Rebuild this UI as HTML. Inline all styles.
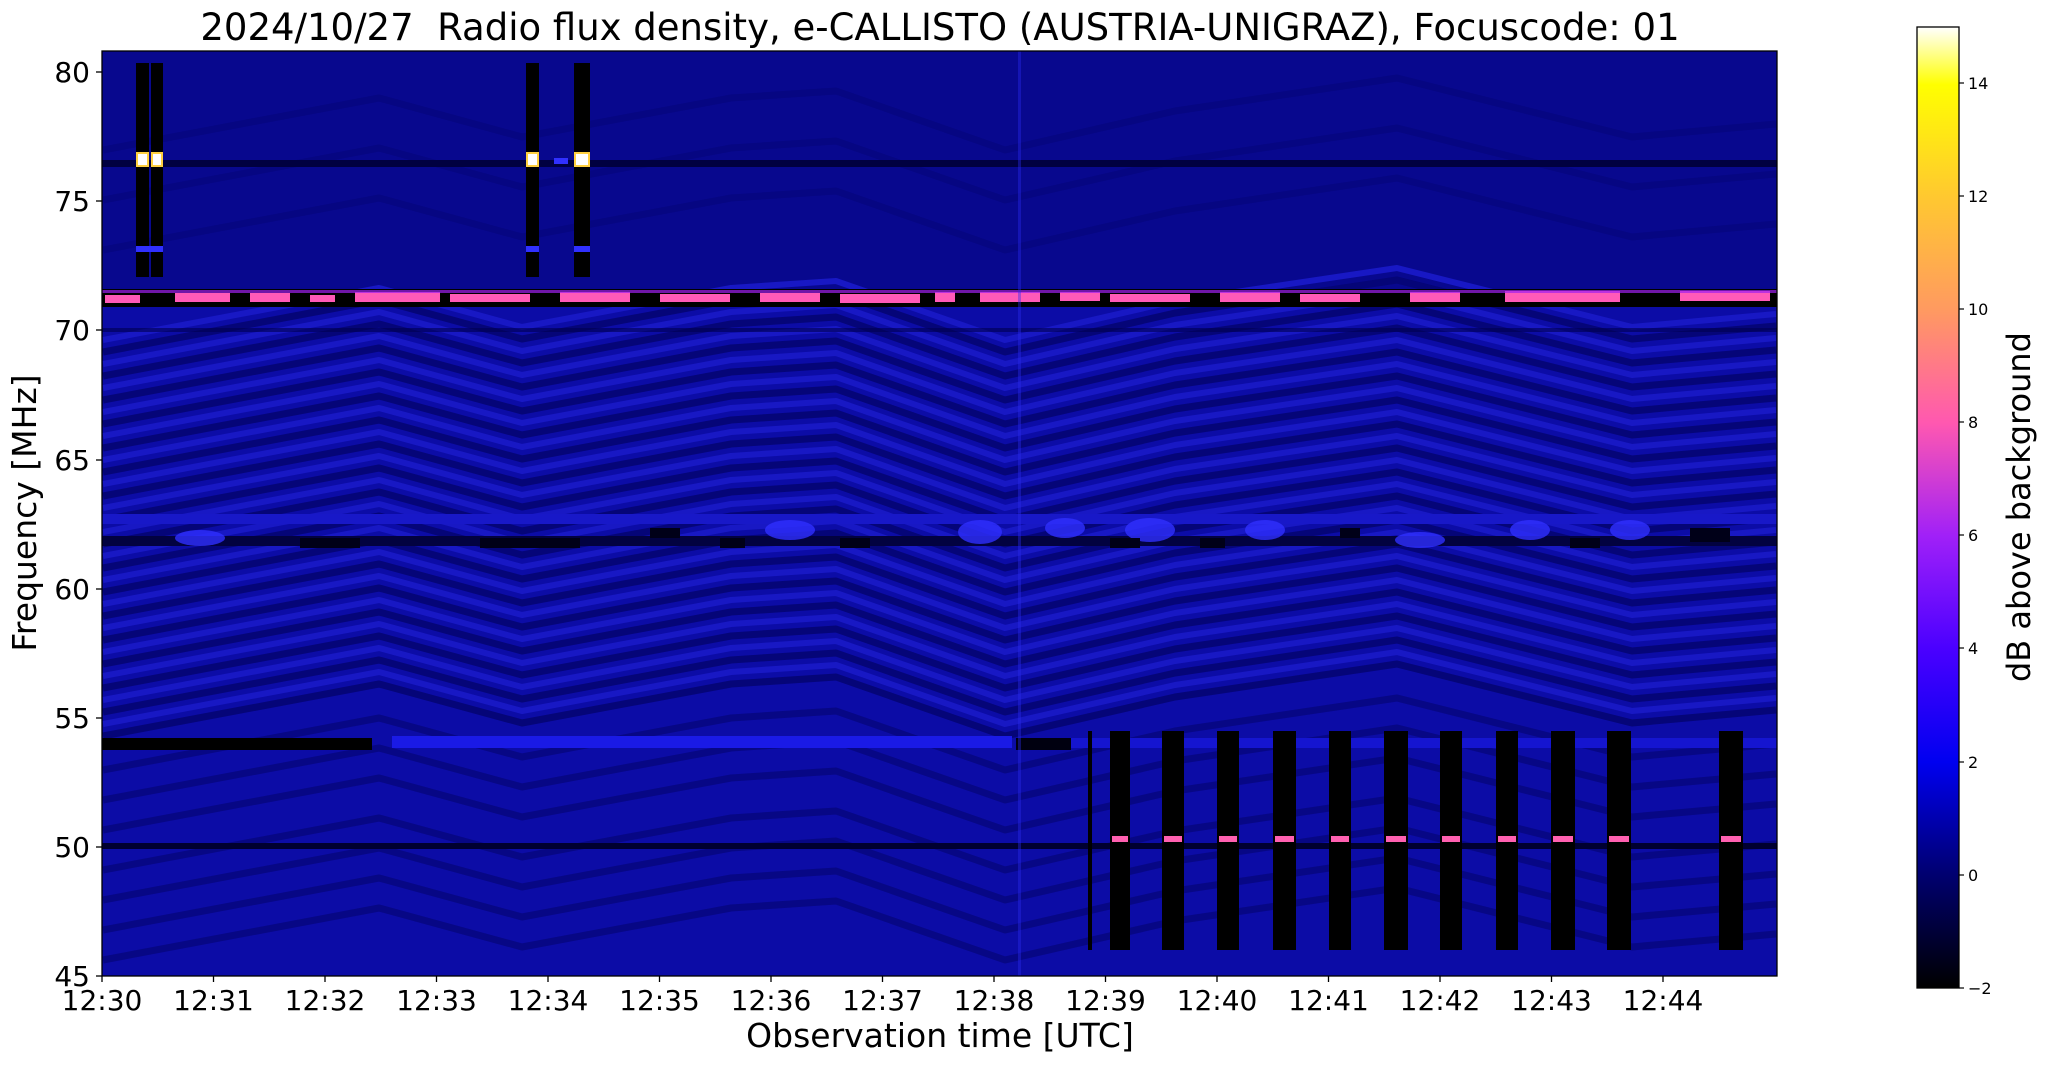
<!DOCTYPE html>
<html><head><style>
body{margin:0;background:#fff;}
svg text{font-family:"DejaVu Sans","Liberation Sans",sans-serif;fill:#000;}
</style></head><body>
<svg width="2047" height="1067" viewBox="0 0 2047 1067">
<defs>
<linearGradient id="cb" x1="0" y1="1" x2="0" y2="0">
<stop offset="0" stop-color="#000000"/>
<stop offset="0.118" stop-color="#000070"/>
<stop offset="0.235" stop-color="#0000f0"/>
<stop offset="0.353" stop-color="#4a00ff"/>
<stop offset="0.47" stop-color="#a020f8"/>
<stop offset="0.588" stop-color="#ff58b0"/>
<stop offset="0.706" stop-color="#ff9a60"/>
<stop offset="0.823" stop-color="#ffc830"/>
<stop offset="0.94" stop-color="#ffff00"/>
<stop offset="1" stop-color="#ffffff"/>
</linearGradient>
<clipPath id="pc"><rect x="102" y="51" width="1675" height="925"/></clipPath>
<polyline id="w" points="103,0 379,-52 522,-13 731,-52 836,-59 1005,0 1175,-39 1397,-72 1632,-13 1776,-26" fill="none" stroke="#050578" stroke-width="7" stroke-linejoin="round"/>
<polyline id="wl" points="103,0 379,-52 522,-13 731,-52 836,-59 1005,0 1175,-39 1397,-72 1632,-13 1776,-26" fill="none" stroke="#1818c4" stroke-width="6" stroke-linejoin="round"/>
</defs>
<g clip-path="url(#pc)">
<rect x="102" y="51" width="1675" height="925" fill="#0c0ca6"/>
<rect x="102" y="51" width="1675" height="240" fill="#08088e"/>
<g opacity="0.5"><use href="#w" y="150"/><use href="#w" y="200"/><use href="#w" y="250"/></g>
<g>
<use href="#wl" y="340"/><use href="#w" y="352"/><use href="#wl" y="364"/><use href="#w" y="376"/><use href="#wl" y="388"/><use href="#w" y="400"/>
<use href="#wl" y="412"/><use href="#w" y="424"/><use href="#wl" y="436"/><use href="#w" y="448"/><use href="#wl" y="460"/><use href="#w" y="472"/>
<use href="#wl" y="484"/><use href="#w" y="496"/><use href="#wl" y="508"/><use href="#w" y="520"/><use href="#wl" y="532"/><use href="#w" y="544"/>
<use href="#wl" y="556"/><use href="#w" y="568"/><use href="#wl" y="580"/><use href="#w" y="592"/><use href="#wl" y="604"/><use href="#w" y="616"/>
<use href="#wl" y="628"/><use href="#w" y="640"/><use href="#wl" y="652"/><use href="#w" y="664"/><use href="#wl" y="676"/><use href="#w" y="688"/>
<use href="#wl" y="700"/><use href="#w" y="712"/><use href="#wl" y="724"/><use href="#w" y="736"/>
</g>
<g opacity="0.7"><use href="#w" y="770"/><use href="#w" y="800"/><use href="#w" y="830"/><use href="#w" y="870"/><use href="#w" y="900"/><use href="#w" y="930"/><use href="#w" y="960"/></g>
<rect x="102" y="160" width="1675" height="7" fill="#000040"/>
<rect x="102" y="843" width="1675" height="6" fill="#000030"/>
<rect x="102" y="328" width="1675" height="4" fill="#000050" opacity="0.6"/>
<rect x="102" y="536" width="1675" height="10" fill="#020240"/>
<rect x="102" y="514" width="1675" height="10" fill="#1818c8"/>
<g fill="#3030ff" opacity="0.8">
<ellipse cx="200" cy="538" rx="25" ry="8"/><ellipse cx="790" cy="530" rx="25" ry="10"/><ellipse cx="980" cy="532" rx="22" ry="12"/>
<ellipse cx="1065" cy="528" rx="20" ry="10"/><ellipse cx="1150" cy="530" rx="25" ry="12"/><ellipse cx="1265" cy="530" rx="20" ry="10"/>
<ellipse cx="1420" cy="540" rx="25" ry="8"/><ellipse cx="1530" cy="530" rx="20" ry="10"/><ellipse cx="1630" cy="530" rx="20" ry="10"/>
</g>
<g fill="#000018">
<rect x="300" y="538" width="60" height="10"/><rect x="480" y="538" width="100" height="10"/><rect x="650" y="528" width="30" height="10"/>
<rect x="720" y="538" width="25" height="10"/><rect x="840" y="538" width="30" height="10"/><rect x="1110" y="538" width="30" height="10"/>
<rect x="1200" y="538" width="25" height="10"/><rect x="1340" y="528" width="20" height="10"/><rect x="1570" y="538" width="30" height="10"/><rect x="1690" y="528" width="40" height="14"/>
</g>
<rect x="102" y="289" width="1675" height="18" fill="#000000"/>
<g fill="#ff5ab8">
<rect x="105" y="295" width="35" height="8"/><rect x="175" y="293" width="55" height="9"/><rect x="250" y="293" width="40" height="9"/>
<rect x="310" y="295" width="25" height="7"/><rect x="355" y="292" width="85" height="10"/><rect x="450" y="294" width="80" height="8"/>
<rect x="560" y="292" width="70" height="10"/><rect x="660" y="294" width="70" height="8"/><rect x="760" y="293" width="60" height="9"/>
<rect x="840" y="294" width="80" height="9"/><rect x="935" y="292" width="20" height="10"/><rect x="980" y="292" width="60" height="10"/>
<rect x="1060" y="292" width="40" height="9"/><rect x="1110" y="294" width="80" height="8"/><rect x="1220" y="292" width="60" height="10"/>
<rect x="1300" y="294" width="60" height="8"/><rect x="1410" y="292" width="50" height="10"/><rect x="1505" y="291" width="115" height="11"/>
<rect x="1680" y="291" width="90" height="10"/>
</g>
<g fill="#a020f0" opacity="0.7"><rect x="102" y="290" width="1675" height="3"/></g>
<rect x="102" y="738" width="270" height="12" fill="#000"/>
<rect x="392" y="736" width="620" height="12" fill="#1a1ae6"/>
<rect x="1016" y="738" width="55" height="12" fill="#000010"/>
<rect x="1071" y="738" width="706" height="10" fill="#1515d0"/>
<g fill="#000">
<rect x="136" y="63" width="13" height="214"/><rect x="151" y="63" width="12" height="214"/>
<rect x="526" y="63" width="13" height="214"/><rect x="574" y="63" width="16" height="214"/>
</g>
<g fill="#3030ff"><rect x="136" y="246" width="27" height="6"/><rect x="526" y="246" width="13" height="6"/><rect x="574" y="246" width="16" height="6"/><rect x="554" y="158" width="14" height="6"/></g>
<g fill="#ffffff" stroke="#ffd040" stroke-width="2">
<rect x="137" y="153" width="11" height="13"/><rect x="152" y="153" width="10" height="13"/><rect x="527" y="153" width="11" height="13"/><rect x="575" y="153" width="14" height="13"/>
</g>
<g fill="#000">
<rect x="1088" y="731" width="4" height="219"/>
<rect x="1110" y="731" width="20" height="219"/><rect x="1162" y="731" width="22" height="219"/><rect x="1217" y="731" width="22" height="219"/>
<rect x="1273" y="731" width="23" height="219"/><rect x="1329" y="731" width="22" height="219"/><rect x="1384" y="731" width="24" height="219"/>
<rect x="1440" y="731" width="22" height="219"/><rect x="1496" y="731" width="22" height="219"/><rect x="1551" y="731" width="24" height="219"/>
<rect x="1607" y="731" width="24" height="219"/><rect x="1719" y="731" width="24" height="219"/>
</g>
<g fill="#ff60b0">
<rect x="1112" y="836" width="16" height="6"/><rect x="1164" y="836" width="18" height="6"/><rect x="1219" y="836" width="18" height="6"/>
<rect x="1275" y="836" width="19" height="6"/><rect x="1331" y="836" width="18" height="6"/><rect x="1386" y="836" width="20" height="6"/>
<rect x="1442" y="836" width="18" height="6"/><rect x="1498" y="836" width="18" height="6"/><rect x="1553" y="836" width="20" height="6"/>
<rect x="1609" y="836" width="20" height="6"/><rect x="1721" y="836" width="20" height="6"/>
</g>
<rect x="1018" y="51" width="3" height="925" fill="#2a2aee" opacity="0.4"/>
</g>
<rect x="102" y="51" width="1675" height="925" fill="none" stroke="#000" stroke-width="1.3"/>
<g stroke="#000" stroke-width="1.3">
<line x1="96" y1="976" x2="102" y2="976"/><line x1="96" y1="847" x2="102" y2="847"/><line x1="96" y1="718" x2="102" y2="718"/>
<line x1="96" y1="589" x2="102" y2="589"/><line x1="96" y1="460" x2="102" y2="460"/><line x1="96" y1="330" x2="102" y2="330"/>
<line x1="96" y1="201" x2="102" y2="201"/><line x1="96" y1="72" x2="102" y2="72"/>
</g>
<g font-size="28" text-anchor="end">
<text x="90" y="986">45</text><text x="90" y="857">50</text><text x="90" y="728">55</text><text x="90" y="599">60</text>
<text x="90" y="470">65</text><text x="90" y="340">70</text><text x="90" y="211">75</text><text x="90" y="82">80</text>
</g>
<g stroke="#000" stroke-width="1.3">
<line x1="102" y1="976" x2="102" y2="982"/><line x1="213.5" y1="976" x2="213.5" y2="982"/><line x1="325" y1="976" x2="325" y2="982"/>
<line x1="436.5" y1="976" x2="436.5" y2="982"/><line x1="548" y1="976" x2="548" y2="982"/><line x1="659.5" y1="976" x2="659.5" y2="982"/>
<line x1="771" y1="976" x2="771" y2="982"/><line x1="882.5" y1="976" x2="882.5" y2="982"/><line x1="994" y1="976" x2="994" y2="982"/>
<line x1="1105.5" y1="976" x2="1105.5" y2="982"/><line x1="1217" y1="976" x2="1217" y2="982"/><line x1="1328.5" y1="976" x2="1328.5" y2="982"/>
<line x1="1440" y1="976" x2="1440" y2="982"/><line x1="1551.5" y1="976" x2="1551.5" y2="982"/><line x1="1663" y1="976" x2="1663" y2="982"/>
</g>
<g font-size="28" text-anchor="middle">
<text x="102" y="1010">12:30</text><text x="213.5" y="1010">12:31</text><text x="325" y="1010">12:32</text><text x="436.5" y="1010">12:33</text>
<text x="548" y="1010">12:34</text><text x="659.5" y="1010">12:35</text><text x="771" y="1010">12:36</text><text x="882.5" y="1010">12:37</text>
<text x="994" y="1010">12:38</text><text x="1105.5" y="1010">12:39</text><text x="1217" y="1010">12:40</text><text x="1328.5" y="1010">12:41</text>
<text x="1440" y="1010">12:42</text><text x="1551.5" y="1010">12:43</text><text x="1663" y="1010">12:44</text>
</g>
<text x="940" y="1047" font-size="33" text-anchor="middle">Observation time [UTC]</text>
<text transform="translate(36,513) rotate(-90)" font-size="33" text-anchor="middle">Frequency [MHz]</text>
<text x="940" y="40" font-size="37" text-anchor="middle" xml:space="preserve">2024/10/27  Radio flux density, e-CALLISTO (AUSTRIA-UNIGRAZ), Focuscode: 01</text>
<rect x="1917" y="27" width="42" height="961" fill="url(#cb)" stroke="#000" stroke-width="1.3"/>
<g stroke="#000" stroke-width="1.2">
<line x1="1959" y1="988" x2="1964" y2="988"/><line x1="1959" y1="875" x2="1964" y2="875"/><line x1="1959" y1="762" x2="1964" y2="762"/>
<line x1="1959" y1="648" x2="1964" y2="648"/><line x1="1959" y1="535" x2="1964" y2="535"/><line x1="1959" y1="422" x2="1964" y2="422"/>
<line x1="1959" y1="309" x2="1964" y2="309"/><line x1="1959" y1="196" x2="1964" y2="196"/><line x1="1959" y1="83" x2="1964" y2="83"/>
</g>
<g font-size="16">
<text x="1968" y="994">−2</text><text x="1968" y="881">0</text><text x="1968" y="768">2</text><text x="1968" y="654">4</text>
<text x="1968" y="541">6</text><text x="1968" y="428">8</text><text x="1968" y="315">10</text><text x="1968" y="202">12</text><text x="1968" y="89">14</text>
</g>
<text transform="translate(2030,507) rotate(-90)" font-size="32" text-anchor="middle">dB above background</text>
</svg>
</body></html>
